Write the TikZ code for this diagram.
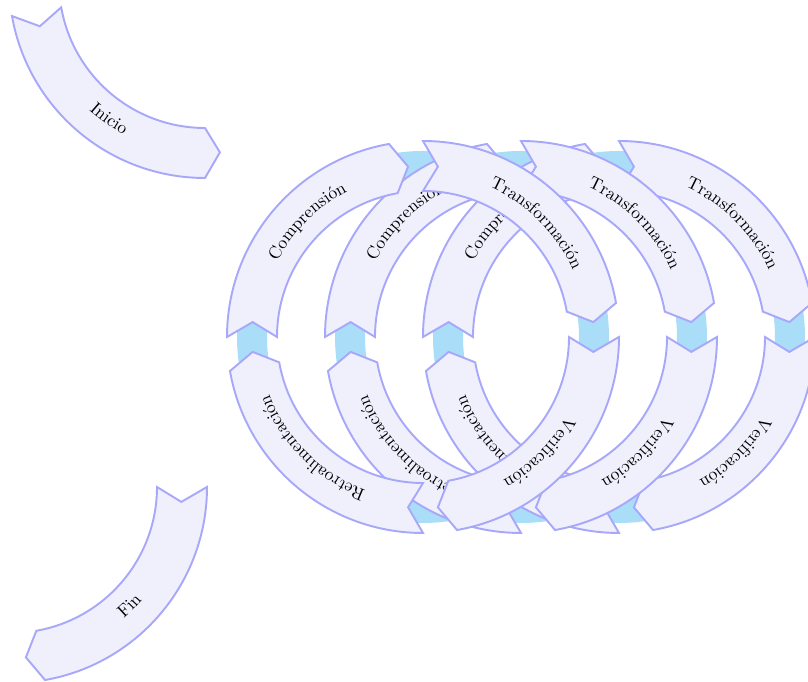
\documentclass[tikz,border=0pt]{standalone}
\usetikzlibrary{decorations.text}
\definecolor{segfill}{RGB}{240,240,253}
\definecolor{segline}{RGB}{168,168,250}
\definecolor{trackblue}{RGB}{170,222,248}
\tikzset{
  seg/.style={draw=segline, fill=segfill, line width=1.1pt, line join=miter},
  trackline/.style={draw=trackblue, line width=17.1pt},
}
% #1,#2 centre; #3 tail angle; #4 angle where the head starts; #5 turning sense (+1/-1);
% #6,#7 angles of the arc carrying the label; #8 its radius; #9 label
\newcommand\ringseg[9]{%
  \begin{scope}[shift={(#1,#2)}]
    \draw[seg] (#3:196) arc[start angle=#3, end angle=#4, radius=196]
      -- ({#4+5*(#5)}:171) -- (#4:146)
      arc[start angle=#4, end angle=#3, radius=146]
      -- ({#3+5*(#5)}:171) -- cycle;
    \path[decorate, decoration={text along path, text={#9}, text align=center}]
      (#6:#8) arc[start angle=#6, end angle=#7, radius=#8];
  \end{scope}}
\newcommand\cycleloop[1]{%
  \ringseg{#1}{345}{180}{100}{-1}{180}{90}{164}{Comprensión}
  \ringseg{#1}{345}{90}{10}{-1}{90}{0}{164}{Transformación}
  \ringseg{#1}{345}{0}{-80}{-1}{0}{-90}{164}{Verificación}
  \ringseg{#1}{345}{-90}{-170}{-1}{-90}{-180}{164}{Retroalimentación}}
\begin{document}
\begin{tikzpicture}[x=0.57pt, y=0.57pt]
  \useasboundingbox (0,0) rectangle (808,682);
  % track under the three loops
  \foreach \cx in {423,521,619} \draw[trackline] (\cx,345) circle[radius=171];
  % loops, back to front
  \cycleloop{619}
  \cycleloop{521}
  \cycleloop{423}
  % entry and exit arrows
  \ringseg{205}{700}{190}{270}{1}{190}{280}{173}{Inicio}
  \ringseg{11}{195}{0}{-80}{-1}{-90}{0}{173}{Fin}
\end{tikzpicture}
\end{document}
